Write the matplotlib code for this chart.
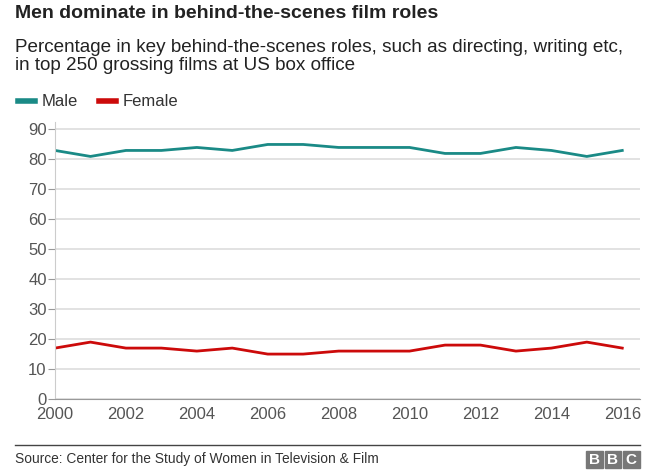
import matplotlib.pyplot as plt
from matplotlib.patches import Rectangle
from matplotlib.lines import Line2D

# Chart data
years = list(range(2000, 2017))
male = [83, 81, 83, 83, 84, 83, 85, 85, 84, 84, 84, 82, 82, 84, 83, 81, 83]
female = [17, 19, 17, 17, 16, 17, 15, 15, 16, 16, 16, 18, 18, 16, 17, 19, 17]
yticks = [0, 10, 20, 30, 40, 50, 60, 70, 80, 90]
xticks = [2000, 2002, 2004, 2006, 2008, 2010, 2012, 2014, 2016]

male_color = '#1a8a86'
female_color = '#cc0a0a'
grey_text = '#555555'

plt.rcParams['font.family'] = ['Liberation Sans', 'DejaVu Sans']

fig = plt.figure(figsize=(6.6, 4.71), dpi=100)
ax = fig.add_axes([55 / 660, 72 / 471, 585 / 660, 277 / 471])

ax.plot(years, male, color=male_color, linewidth=2)
ax.plot(years, female, color=female_color, linewidth=2)

ax.set_xlim(2000, 2016.5)
ax.set_ylim(0, 92.5)
ax.set_yticks(yticks)
ax.set_xticks(xticks)
ax.grid(axis='y', color='#dddddd', linewidth=1.2)
ax.set_axisbelow(True)
for s in ['top', 'right']:
    ax.spines[s].set_visible(False)
ax.spines['left'].set_color('#cccccc')
ax.spines['bottom'].set_color('#999999')
ax.tick_params(axis='y', length=5, color='#999999', labelsize=12, labelcolor=grey_text, pad=1)
ax.tick_params(axis='x', length=0, labelsize=12, labelcolor=grey_text, pad=6)

# Titles
fig.text(15 / 660, 1 - 14 / 471, 'Men dominate in behind-the-scenes film roles',
         fontsize=14, fontweight='bold', color='#222222', va='center')
fig.text(15 / 660, 1 - 47 / 471, 'Percentage in key behind-the-scenes roles, such as directing, writing etc,',
         fontsize=13.6, color='#222222', va='center')
fig.text(15 / 660, 1 - 66 / 471, 'in top 250 grossing films at US box office',
         fontsize=13.6, color='#222222', va='center')

# Legend
legend_items = [Line2D([0], [0], color=male_color, linewidth=4),
                Line2D([0], [0], color=female_color, linewidth=4)]
fig.legend(legend_items, ['Male', 'Female'], loc='center left',
           bbox_to_anchor=(3 / 660, 1 - 102 / 471), ncol=2, frameon=False,
           fontsize=12, handlelength=1.0, handletextpad=0.4, columnspacing=1.3,
           labelcolor='#333333')

# Footer
fig.add_artist(Line2D([15 / 660, 640 / 660], [1 - 445 / 471, 1 - 445 / 471],
                      color='#444444', linewidth=1))
fig.text(15 / 660, 1 - 459 / 471, 'Source: Center for the Study of Women in Television & Film',
         fontsize=9.9, color='#333333', va='center')
for i, letter in enumerate('BBC'):
    x0 = (586 + i * 18.5) / 660
    fig.add_artist(Rectangle((x0, 1 - 468 / 471), 16.5 / 660, 17 / 471,
                             transform=fig.transFigure, color='#777777'))
    fig.text(x0 + 8.25 / 660, 1 - 459.5 / 471, letter, fontsize=11, fontweight='bold',
             color='white', ha='center', va='center')

fig.savefig('out.png', dpi=100)
